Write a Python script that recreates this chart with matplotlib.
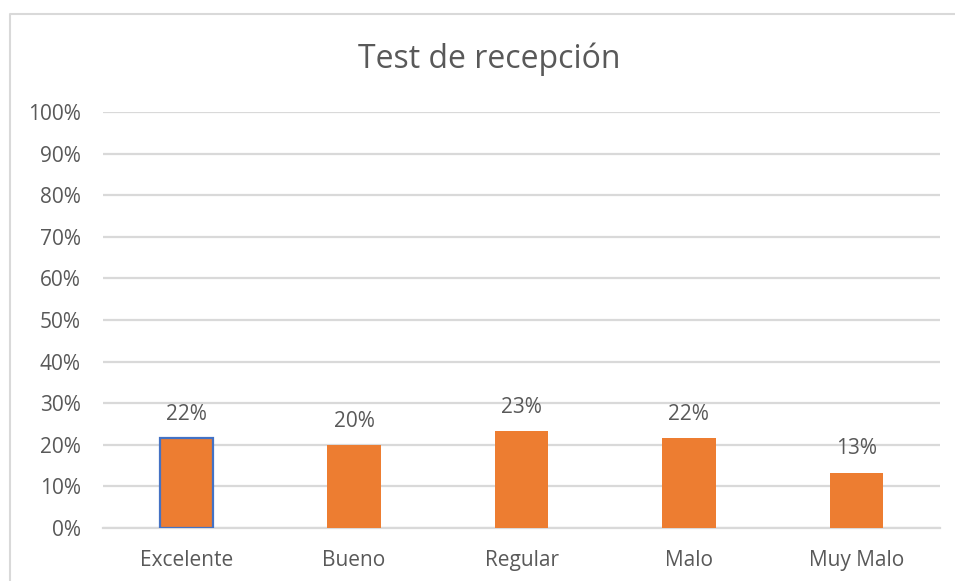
"""Test de recepción — gráfico de barras estilo Excel"""

import matplotlib
matplotlib.use("Agg")
import matplotlib.pyplot as plt
from matplotlib.lines import Line2D
from matplotlib.ticker import PercentFormatter

categories = ["Excelente", "Bueno", "Regular", "Malo", "Muy Malo"]
values = [13 / 60, 12 / 60, 14 / 60, 13 / 60, 8 / 60]
labels = ["22%", "20%", "23%", "22%", "13%"]
yticks = [i / 10 for i in range(11)]

TEXT = "#595959"
GRID = "#d9d9d9"
ORANGE = "#ED7D31"
BLUE = "#4472C4"

plt.rcParams["font.family"] = ["Open Sans", "DejaVu Sans"]

W, H = 955, 581
fig = plt.figure(figsize=(W / 100, H / 100), dpi=100)
ax = fig.add_axes([103 / W, 1 - 528 / H, (940 - 103) / W, (528 - 112) / H])

x = list(range(len(categories)))
bars = ax.bar(x, values, width=0.32, color=ORANGE, zorder=3)
# primera barra con borde azul
bars[0].set_edgecolor(BLUE)
bars[0].set_linewidth(1.6)

for xi, v, lab in zip(x, values, labels):
    ax.annotate(lab, (xi, v), xytext=(0, 13), textcoords="offset points",
                ha="center", va="baseline", fontsize=15, color=TEXT)

ax.set_xlim(-0.5, len(categories) - 0.5)
ax.set_ylim(0, 1)
ax.set_yticks(yticks)
ax.yaxis.set_major_formatter(PercentFormatter(1.0, decimals=0))
ax.set_xticks(x)
ax.set_xticklabels(categories)

ax.grid(axis="y", color=GRID, lw=1.6, zorder=0)
for s in ["top", "right", "left"]:
    ax.spines[s].set_visible(False)
ax.spines["bottom"].set_color(GRID)
ax.spines["bottom"].set_linewidth(1.6)
ax.tick_params(axis="both", length=0, labelsize=15, labelcolor=TEXT)
ax.tick_params(axis="y", pad=16)
ax.tick_params(axis="x", pad=16)

fig.text(489 / W, 1 - 59 / H, "Test de recepción", ha="center", va="center",
         fontsize=23, color=TEXT)

# borde del área del gráfico
bx, by = 9.5 / W, 1 - 13.5 / H
fig.add_artist(Line2D([bx, bx, 1], [0, by, by], transform=fig.transFigure,
                      color=GRID, lw=1.5))

fig.savefig("out.png", dpi=100)
plt.close(fig)
